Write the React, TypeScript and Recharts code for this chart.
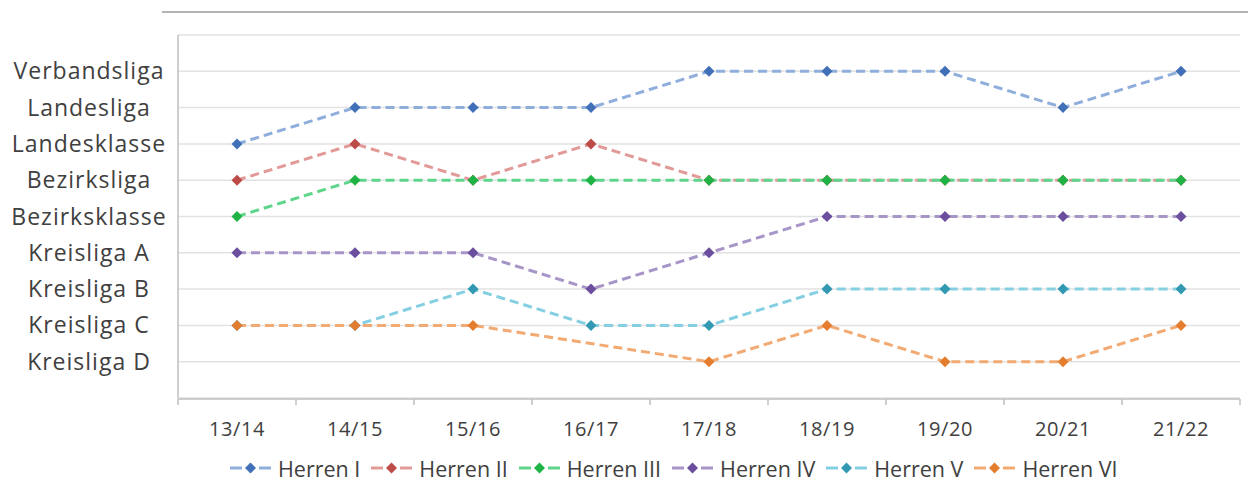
import React from 'react';
import { LineChart, Line, XAxis, YAxis, CartesianGrid, Legend } from 'recharts';

const seasons = ['13/14', '14/15', '15/16', '16/17', '17/18', '18/19', '19/20', '20/21', '21/22'];
const leagues = ['Kreisliga D', 'Kreisliga C', 'Kreisliga B', 'Kreisliga A', 'Bezirksklasse', 'Bezirksliga', 'Landesklasse', 'Landesliga', 'Verbandsliga'];

const herrenI = [7, 8, 8, 8, 9, 9, 9, 8, 9];
const herrenII = [6, 7, 6, 7, 6, 6, 6, 6, 6];
const herrenIII = [5, 6, 6, 6, 6, 6, 6, 6, 6];
const herrenIV = [4, 4, 4, 3, 4, 5, 5, 5, 5];
const herrenV = [2, 2, 3, 2, 2, 3, 3, 3, 3];
const herrenVI = [2, 2, 2, null, 1, 2, 1, 1, 2];

const seriesNames = ['Herren I', 'Herren II', 'Herren III', 'Herren IV', 'Herren V', 'Herren VI'];
const seriesValues = [herrenI, herrenII, herrenIII, herrenIV, herrenV, herrenVI];
const lineColors = ['#8FAEDC', '#E29A98', '#5ED58A', '#A895C8', '#85CFE2', '#F2AA72'];
const markerColors = ['#4170B8', '#BD4B48', '#1FB244', '#6C4E9E', '#3399B3', '#E47E2E'];

const data = seasons.map((s, i) => {
  const row: any = { season: s, x: i + 0.5 };
  seriesNames.forEach((n, k) => {
    row[n] = seriesValues[k][i];
  });
  return row;
});

const FONT = '"Open Sans", sans-serif';

const Diamond = (color: string) => (props: any) => {
  const { cx, cy, index } = props;
  if (cx == null || cy == null || props.value == null) return <g key={index} />;
  const r = 5.5;
  return (
    <polygon
      key={index}
      points={`${cx},${cy - r} ${cx + r},${cy} ${cx},${cy + r} ${cx - r},${cy}`}
      fill={color}
      stroke="none"
    />
  );
};

const YTick = (props: any) => {
  const { y, payload } = props;
  const v = payload.value;
  if (v < 1 || v > 9) return <g />;
  return (
    <text x={89} y={y} dy="0.35em" textAnchor="middle" fill="#404040" fontSize={23} letterSpacing={1} fontFamily={FONT}>
      {leagues[v - 1]}
    </text>
  );
};

const XLabel = (props: any) => {
  const { x, y, payload } = props;
  const idx = Math.round(payload.value - 0.5);
  return (
    <text x={x} y={y} dy="0.71em" textAnchor="middle" fill="#404040" fontSize={20} letterSpacing={0.6} fontFamily={FONT}>
      {seasons[idx]}
    </text>
  );
};

const TickMark = (props: any) => {
  const { x, y } = props;
  return <line x1={x} y1={y} x2={x} y2={y + 6} stroke="#BFBFBF" strokeWidth={1.5} />;
};

const LegendContent = () => (
  <div style={{ display: 'flex', flexDirection: 'row', alignItems: 'center', paddingLeft: 229, height: 30, fontFamily: FONT, fontSize: 21.5, color: '#404040' }}>
    {seriesNames.map((n, k) => (
      <div key={n} style={{ display: 'flex', alignItems: 'center', marginRight: 10 }}>
        <svg width={43} height={14} style={{ marginRight: 6 }}>
          <line x1={1} y1={7} x2={13} y2={7} stroke={lineColors[k]} strokeWidth={3} />
          <line x1={30} y1={7} x2={42} y2={7} stroke={lineColors[k]} strokeWidth={3} />
          <polygon points="21.5,1.5 27,7 21.5,12.5 16,7" fill={markerColors[k]} />
        </svg>
        <span>{n}</span>
      </div>
    ))}
  </div>
);

export default function App() {
  return (
    <div style={{ position: 'absolute', left: 0, top: 0, width: 1248, height: 500, background: '#fff' }}>
      <div style={{ position: 'absolute', left: 162, top: 11, width: 1086, height: 0, borderTop: '2px solid #B4B4B4' }} />
      <LineChart width={1248} height={500} data={data} margin={{ top: 35, right: 8, left: 0, bottom: 17 }}>
        <CartesianGrid horizontal={true} vertical={false} stroke="#E2E2E2" strokeWidth={1.5} />
        <XAxis
          xAxisId="labels"
          type="number"
          dataKey="x"
          domain={[0, 9]}
          ticks={[0.5, 1.5, 2.5, 3.5, 4.5, 5.5, 6.5, 7.5, 8.5]}
          tick={<XLabel />}
          tickLine={false}
          tickSize={0}
          tickMargin={24}
          axisLine={false}
          height={1}
        />
        <XAxis
          xAxisId="ticks"
          type="number"
          dataKey="x"
          domain={[0, 9]}
          ticks={[0, 1, 2, 3, 4, 5, 6, 7, 8, 9]}
          tick={<TickMark />}
          tickLine={false}
          tickSize={0}
          tickMargin={0}
          axisLine={{ stroke: '#BFBFBF', strokeWidth: 1.5 }}
          height={54}
        />
        <YAxis
          type="number"
          domain={[0, 10]}
          ticks={[0, 1, 2, 3, 4, 5, 6, 7, 8, 9, 10]}
          width={178}
          tick={<YTick />}
          tickLine={false}
          axisLine={{ stroke: '#BFBFBF', strokeWidth: 1.5 }}
        />
        <Legend verticalAlign="bottom" content={<LegendContent />} />
        {seriesNames.map((n, k) => (
          <Line
            key={n}
            xAxisId="labels"
            dataKey={n}
            stroke={lineColors[k]}
            strokeWidth={3}
            strokeDasharray="9 5"
            dot={Diamond(markerColors[k])}
            activeDot={false}
            connectNulls
            isAnimationActive={false}
          />
        ))}
      </LineChart>
    </div>
  );
}
